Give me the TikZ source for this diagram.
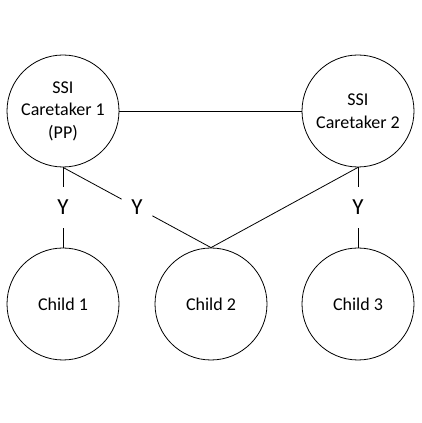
\documentclass[tikz,border=0pt]{standalone}
\usepackage{fontspec}
\setmainfont{Carlito}
\usetikzlibrary{calc}

\begin{document}
\begin{tikzpicture}[x=1pt,y=1pt,line width=0.8pt,
  person/.style={draw,circle,minimum size=112pt,inner sep=0pt,align=center,
    font=\fontsize{18}{22.5}\selectfont},
  ylab/.style={minimum width=30pt,minimum height=41pt,inner sep=0pt,
    font=\fontsize{23}{27}\selectfont}]
  \useasboundingbox (0,0) rectangle (422,423);
  % caretakers
  \node[person] (care1) at (63,312) {SSI\\Caretaker 1\\(PP)};
  \node[person] (care2) at (358,312) {SSI\\Caretaker 2};
  % children
  \node[person] (kid1) at (63,119) {Child 1};
  \node[person] (kid2) at (211,119) {Child 2};
  \node[person] (kid3) at (358,119) {Child 3};
  % Y labels
  \node[ylab] (y1) at ($(care1.south)!0.5!(kid1.north)$) {Y};
  \node[ylab] (y2) at ($(care1.south)!0.5!(kid2.north)$) {Y};
  \node[ylab] (y3) at ($(care2.south)!0.5!(kid3.north)$) {Y};
  % links
  \draw (care1) -- (care2);
  \draw (care1.south) -- (y1) -- (kid1.north);
  \draw (care1.south) -- (y2) -- (kid2.north);
  \draw (care2.south) -- (kid2.north);
  \draw (care2.south) -- (y3) -- (kid3.north);
\end{tikzpicture}
\end{document}
